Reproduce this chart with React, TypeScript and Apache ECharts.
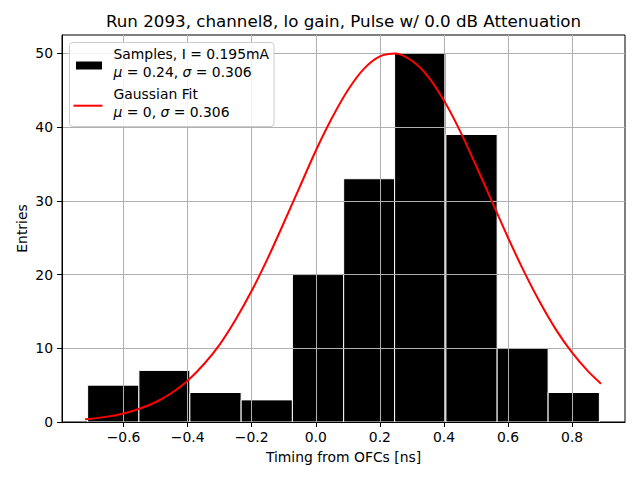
import React, { useEffect, useRef } from "react";
import * as echarts from "echarts";

const binEdges = [-0.712, -0.552, -0.393, -0.233, -0.073, 0.087, 0.246, 0.406, 0.566, 0.725, 0.885];
const counts = [5, 7, 4, 3, 20, 33, 50, 39, 10, 4];

const fitX = [
  -0.72, -0.65, -0.6, -0.55, -0.5, -0.45, -0.4, -0.35, -0.3, -0.25, -0.2, -0.15, -0.1, -0.05,
  0, 0.05, 0.1, 0.15, 0.2, 0.25, 0.3, 0.35, 0.4, 0.45, 0.5, 0.55, 0.6, 0.65, 0.7, 0.75, 0.8, 0.85, 0.89,
];
const fitY = [
  0.36, 0.73, 1.15, 1.79, 2.68, 3.94, 5.61, 7.8, 10.5, 13.9, 17.8, 22.2, 27.0, 31.9,
  36.8, 41.2, 45.0, 47.9, 49.6, 50.0, 49.0, 46.9, 43.6, 39.5, 34.8, 29.9, 25.0, 20.4, 16.2, 12.5, 9.4, 6.86, 5.2,
];

const xTicks = [-0.6, -0.4, -0.2, 0, 0.2, 0.4, 0.6, 0.8];
const yTicks = [0, 10, 20, 30, 40, 50];

const titleText = "Run 2093, channel8, lo gain, Pulse w/ 0.0 dB Attenuation";
const xLabel = "Timing from OFCs [ns]";
const yLabel = "Entries";
const legend1a = "Samples, I = 0.195mA";
const legend1b = "{i|μ} = 0.24, {i|σ} = 0.306";
const legend2a = "Gaussian Fit";
const legend2b = "{i|μ} = 0, {i|σ} = 0.306";

const FONT = "DejaVu Sans";
const FS = 13.9;

export default function App() {
  const ref = useRef<HTMLDivElement>(null);
  useEffect(() => {
    if (!ref.current) return;
    const chart = echarts.init(ref.current, undefined, { renderer: "svg" });
    const barData = counts.map((c, i) => [binEdges[i], binEdges[i + 1], c]);
    const lineData = fitX.map((x, i) => [x, fitY[i]]);
    const fmtX = (v: number) => {
      if (Math.abs(v) < 1e-9) return "0.0";
      return (v < 0 ? "\u2212" : "") + Math.abs(v).toFixed(1);
    };
    const textStyleBase = { fontFamily: FONT, fontSize: FS, fill: "#000" };
    const rich = { i: { fontStyle: "italic", fontFamily: FONT, fontSize: FS, color: "#000" } };
    const ZL = 100;
    chart.setOption({
      animation: false,
      backgroundColor: "#fff",
      grid: {
        left: 62,
        right: 15,
        top: 35,
        bottom: 58,
        show: true,
        borderColor: "#000",
        borderWidth: 1,
        backgroundColor: "transparent",
      },
      xAxis: {
        type: "value",
        min: -0.792,
        max: 0.965,
        z: 3,
        name: xLabel,
        nameLocation: "middle",
        nameGap: 28,
        nameTextStyle: { fontFamily: FONT, fontSize: FS, color: "#000" },
        axisLine: { show: true, onZero: false, lineStyle: { color: "#000", width: 1 } },
        axisTick: { show: true, length: 5, lineStyle: { color: "#000", width: 1 }, customValues: xTicks },
        axisLabel: {
          customValues: xTicks,
          formatter: fmtX,
          fontFamily: FONT,
          fontSize: FS,
          color: "#000",
          margin: 8,
        },
        splitLine: { show: true, lineStyle: { color: "#b0b0b0", width: 1 } },
      },
      yAxis: {
        type: "value",
        min: 0,
        max: 52.5,
        z: 3,
        axisLine: { show: true, onZero: false, lineStyle: { color: "#000", width: 1 } },
        axisTick: { show: true, length: 5, lineStyle: { color: "#000", width: 1 }, customValues: yTicks },
        axisLabel: {
          customValues: yTicks,
          fontFamily: FONT,
          fontSize: FS,
          color: "#000",
          margin: 9,
        },
        splitLine: { show: true, lineStyle: { color: "#b0b0b0", width: 1 } },
      },
      series: [
        {
          type: "custom",
          z: 2,
          data: barData,
          encode: { x: [0, 1], y: 2 },
          renderItem: (params: any, api: any) => {
            const x0 = api.value(0);
            const x1 = api.value(1);
            const h = api.value(2);
            const p0 = api.coord([x0, h]);
            const p1 = api.coord([x1, 0]);
            return {
              type: "rect",
              shape: { x: p0[0], y: p0[1], width: p1[0] - p0[0], height: p1[1] - p0[1] },
              style: { fill: "#000", stroke: "#ffffff", lineWidth: 1 },
            };
          },
        },
        {
          type: "line",
          z: 5,
          data: lineData,
          showSymbol: false,
          smooth: 0.3,
          lineStyle: { color: "#ff0000", width: 2 },
        },
      ],
      graphic: {
        z: ZL,
        elements: [
          {
            type: "text",
            z: ZL,
            x: 343.5,
            y: 21.2,
            style: { text: titleText, fontFamily: FONT, fontSize: 16.7, fill: "#000", align: "center", verticalAlign: "middle" },
          },
          {
            type: "text",
            z: ZL,
            x: 21.8,
            y: 228.5,
            rotation: Math.PI / 2,
            style: { text: yLabel, fontFamily: FONT, fontSize: FS, fill: "#000", align: "center", verticalAlign: "middle" },
          },
          {
            type: "rect",
            z: ZL,
            shape: { x: 69.5, y: 42.5, width: 204.5, height: 84, r: 3 },
            style: { fill: "rgba(255,255,255,0.85)", stroke: "#cccccc", lineWidth: 1 },
          },
          {
            type: "rect",
            z: ZL + 1,
            shape: { x: 76, y: 61.5, width: 26, height: 8 },
            style: { fill: "#000" },
          },
          {
            type: "line",
            z: ZL + 1,
            shape: { x1: 73.5, y1: 105.7, x2: 102.5, y2: 105.7 },
            style: { stroke: "#ff0000", lineWidth: 2 },
          },
          {
            type: "text",
            z: ZL + 1,
            x: 113.5,
            y: 54.1,
            style: { ...textStyleBase, text: legend1a, verticalAlign: "middle" },
          },
          {
            type: "text",
            z: ZL + 1,
            x: 113.5,
            y: 71.6,
            style: { ...textStyleBase, text: legend1b, rich, verticalAlign: "middle" },
          },
          {
            type: "text",
            z: ZL + 1,
            x: 113.5,
            y: 94.4,
            style: { ...textStyleBase, text: legend2a, verticalAlign: "middle" },
          },
          {
            type: "text",
            z: ZL + 1,
            x: 113.5,
            y: 111.8,
            style: { ...textStyleBase, text: legend2b, rich, verticalAlign: "middle" },
          },
        ],
      },
    });
    return () => chart.dispose();
  }, []);
  return <div ref={ref} style={{ position: "fixed", left: 0, top: 0, width: 640, height: 480 }} />;
}
